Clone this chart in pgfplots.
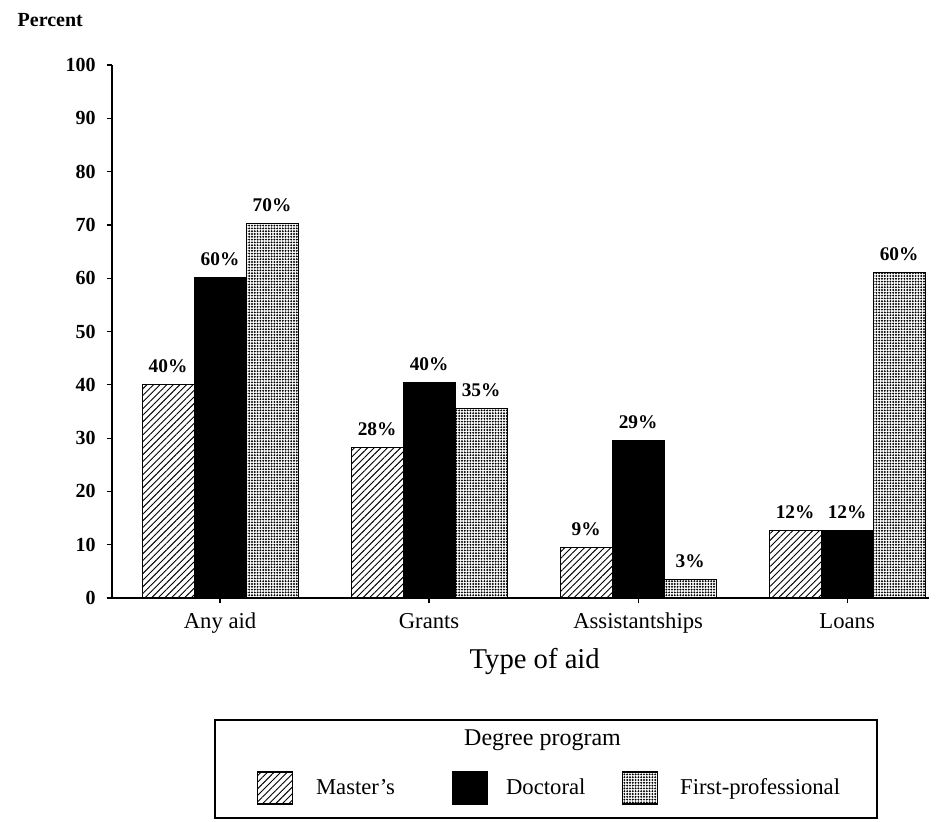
\documentclass[border=0pt]{standalone}
\usepackage{fontspec}
\setmainfont{Liberation Serif}
\usepackage{pgfplots}
\pgfplotsset{compat=1.18}
\usetikzlibrary{patterns.meta}

\begin{document}
\begin{tikzpicture}
\path[use as bounding box] (-84pt,-168pt) rectangle (621pt,448.5pt);
\begin{axis}[
  at={(0pt,0pt)}, anchor=south west,
  scale only axis, width=612.5pt, height=399.75pt,
  ybar=0pt, bar width=39pt,
  xmin=-0.517, xmax=3.39, ymin=0, ymax=100,
  clip=false,
  axis lines=left,
  axis line style={-, line width=1.1pt},
  xtick={0,1,2,3},
  xticklabels={Any aid,Grants,Assistantships,Loans},
  ytick={0,10,...,100},
  tick align=outside,
  major tick length=4pt,
  tick style={black, line width=0.9pt},
  /pgf/number format/assume math mode=true,
  yticklabel style={font=\fontsize{15}{18}\selectfont\bfseries, anchor=east, inner sep=0pt, xshift=-8pt},
  xticklabel style={font=\fontsize{17}{20}\selectfont, anchor=base, inner sep=0pt, yshift=-18.5pt},
  ylabel={Percent},
  every axis y label/.style={at={(rel axis cs:0,1)}, anchor=base west, xshift=-74.25pt, yshift=28.5pt, font=\fontsize{15}{18}\selectfont\bfseries},
  xlabel={Type of aid},
  every axis x label/.style={at={(axis description cs:0.5176,0)}, anchor=base, yshift=-52.5pt, font=\fontsize{21.5}{25}\selectfont},
  point meta=explicit symbolic,
  nodes near coords={\pgfplotspointmeta},
  every node near coord/.append style={font=\fontsize{14.5}{17}\selectfont\bfseries, anchor=base, inner sep=0pt, yshift=9pt},
  every axis plot post/.append style={
    legend image code/.code={\draw[##1,draw=black,line width=0.8pt] (0pt,-12pt) rectangle (26.25pt,12pt);}},
  legend style={draw=none, fill=none, inner sep=0pt, outer sep=0pt,
    at={(axis description cs:0.17755,-0.35647)}, anchor=west,
    nodes={inner sep=0pt}, column sep=0pt,
    font=\fontsize{17}{20}\selectfont},
  legend columns=3,
  legend cell align=left,
]
\addplot[draw=black, line width=0.8pt,
  pattern={Lines[angle=45,distance=3.5pt,line width=0.7pt]}]
  coordinates {(0,40.0) [40\%] (1,28.2) [28\%] (2,9.4) [9\%] (3,12.6) [12\%]};
\addlegendentry{\makebox[119.25pt][l]{\hspace{17.25pt}Master's}}
\addplot[draw=black, line width=0.8pt, fill=black]
  coordinates {(0,60.2) [60\%] (1,40.4) [40\%] (2,29.5) [29\%] (3,12.6) [12\%]};
\addlegendentry{\makebox[100.5pt][l]{\hspace{13.5pt}Doctoral}}
\addplot[draw=black, line width=0.8pt,
  pattern={Dots[distance=2.1pt,radius=0.8pt]}]
  coordinates {(0,70.2) [70\%] (1,35.5) [35\%] (2,3.5) [3\%] (3,61.0) [60\%]};
\addlegendentry{\hspace{16.5pt}First-professional}
\end{axis}
% legend frame and title
\draw[line width=0.8pt] (77.25pt,-165pt) rectangle (573.75pt,-91.5pt);
\node[anchor=base, inner sep=0pt, font=\fontsize{18}{21}\selectfont] at (322.9pt,-110.25pt) {Degree program};
\end{tikzpicture}
\end{document}
